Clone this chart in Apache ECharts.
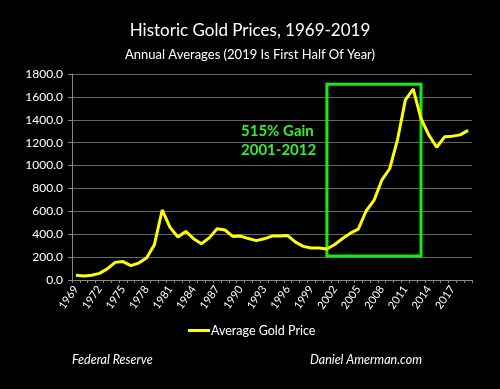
<!DOCTYPE html>
<html>
<head>
<meta charset="utf-8">
<script src="https://cdn.jsdelivr.net/npm/echarts@6/dist/echarts.min.js"></script>
<style>html,body{margin:0;padding:0;background:#000;}#c{width:500px;height:389px;}</style>
</head>
<body>
<div id="c"></div>
<script>
const years = [];
for (let y = 1969; y <= 2019; y++) years.push(String(y));
const goldPrice = [41, 36, 41, 58, 97, 154, 161, 125, 148, 193, 307, 612, 460, 376, 424, 361, 317, 368, 447, 437, 381, 384, 362, 344, 360, 384, 384, 388, 331, 294, 279, 279, 271, 310, 363, 409, 444, 603, 695, 872, 972, 1225, 1572, 1669, 1411, 1266, 1160, 1251, 1257, 1268, 1307];
const yTicks = { min: 0, max: 1800, interval: 200 };
const boxRange = { from: '2001', to: '2013', low: 210, high: 1710 };

const F = 'Lato, "Open Sans", sans-serif';
const chart = echarts.init(document.getElementById('c'));
chart.setOption({
  backgroundColor: '#000',
  animation: false,
  title: [
    { text: 'Historic Gold Prices, 1969-2019', left: 'center', top: 17,
      textStyle: { color: '#fff', fontSize: 17, fontWeight: 'normal', fontFamily: F } },
    { text: 'Annual Averages (2019 Is First Half Of Year)', left: 'center', top: 43,
      textStyle: { color: '#fff', fontSize: 13, fontWeight: 'normal', fontFamily: F } },
    { text: 'Federal Reserve', left: 72, top: 353, padding: 0,
      textStyle: { color: '#fff', fontSize: 12.5, fontWeight: 'normal', fontStyle: 'italic', fontFamily: F } },
    { text: 'Daniel Amerman.com', left: 310, top: 353, padding: 0,
      textStyle: { color: '#fff', fontSize: 12.5, fontWeight: 'normal', fontStyle: 'italic', fontFamily: F } }
  ],
  legend: {
    data: ['Average Gold Price'], left: 188, top: 324, padding: 0,
    itemWidth: 22, itemHeight: 3, itemGap: 2,
    icon: 'rect',
    textStyle: { color: '#fff', fontSize: 12.5, fontFamily: F, padding: [0, 0, 0, -4] }
  },
  grid: { left: 72, right: 28, top: 74, bottom: 109 },
  xAxis: {
    type: 'category', data: years, boundaryGap: true,
    axisLine: { lineStyle: { color: '#888', width: 1 } },
    axisTick: { show: true, interval: 0, length: 3, lineStyle: { color: '#888' } },
    axisLabel: { interval: 2, rotate: 55, color: '#fff', fontSize: 11, fontFamily: F, margin: 7 }
  },
  yAxis: {
    type: 'value', min: yTicks.min, max: yTicks.max, interval: yTicks.interval,
    axisLine: { show: true, lineStyle: { color: '#888', width: 1 } },
    axisTick: { show: true, length: 4, lineStyle: { color: '#888' } },
    axisLabel: { color: '#fff', fontSize: 12, fontFamily: F, margin: 9, formatter: v => v.toFixed(1) },
    splitLine: { lineStyle: { color: '#666', width: 1 } }
  },
  series: [{
    name: 'Average Gold Price', type: 'line', data: goldPrice,
    symbol: 'none', smooth: false,
    lineStyle: { color: '#ffff00', width: 3 },
    itemStyle: { color: '#ffff00' },
    markArea: {
      silent: true,
      itemStyle: { color: 'rgba(0,0,0,0)', borderColor: '#11ee11', borderWidth: 3 },
      data: [[{ xAxis: boxRange.from, yAxis: boxRange.low }, { xAxis: boxRange.to, yAxis: boxRange.high }]]
    },
    z: 3
  }],
  graphic: [
    { type: 'text', left: 241, top: 124,
      style: { text: '515% Gain', fill: '#33ee33', font: 'bold 15px ' + F } },
    { type: 'text', left: 241, top: 143,
      style: { text: '2001-2012', fill: '#33ee33', font: 'bold 15px ' + F } }
  ]
});
</script>
</body>
</html>
